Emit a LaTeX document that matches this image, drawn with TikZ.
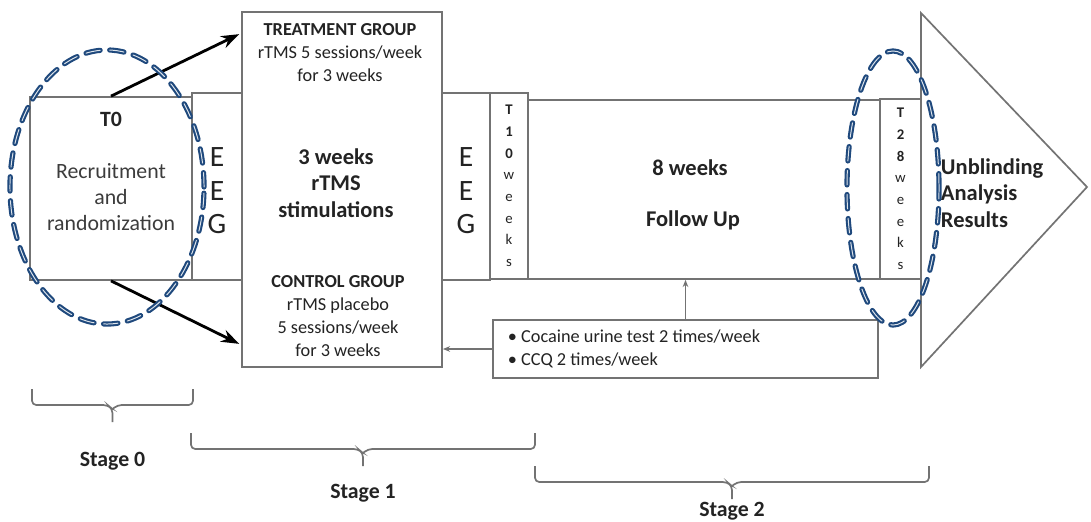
\documentclass[tikz,border=0pt]{standalone}
\usepackage{fontspec}
\setmainfont{Carlito}
\usepackage{tikz}
\usetikzlibrary{arrows.meta, positioning, calc, fit}
\definecolor{myline}{RGB}{115,115,115}
\definecolor{mytext}{RGB}{35,35,35}
\definecolor{mygrey}{RGB}{60,60,60}
\definecolor{myblue}{RGB}{31,73,125}
\tikzset{
  box/.style={rectangle, draw=myline, fill=white, line width=1.2pt, inner sep=0pt},
  eegtext/.style={font=\fontsize{21}{24}\selectfont, align=center, text=mytext, yshift=-3pt},
  colltext/.style={font=\fontsize{10.5}{15.4}\selectfont, align=center, text=mytext},
  grouptext/.style={font=\fontsize{13}{16.4}\selectfont, align=center, text=mytext},
  headtext/.style={font=\fontsize{16}{18.8}\selectfont\bfseries, align=center, text=mytext},
  stagetext/.style={font=\fontsize{15.5}{18}\selectfont\bfseries, text=mytext},
  bigarrow/.style={-{Stealth[length=4.5mm,width=3.2mm]}, line width=2pt, black},
  smallarrow/.style={-{Stealth[length=1.8mm,width=1.4mm]}, line width=1pt, myline},
  bracket/.style={line width=1.2pt, myline, rounded corners=3pt},
  ring/.style={draw=myblue, double=white!85!myblue, double distance=0.7pt, line width=1.5pt,
    dash pattern=on 3.6mm off 2.4mm, line cap=round}
}

\begin{document}
\begin{tikzpicture}[x=0.025cm, y=-0.025cm]
  \useasboundingbox[fill=white] (0,0) rectangle (1091,521);

  % Arrow head at the end of the timeline
  \draw[myline, line width=1.2pt, fill=white] (921,13) -- (1087,187) -- (921,367) -- cycle;

  % Timeline blocks
  \node[box, fit={(30,97) (192,280)}] (t0) {};
  \node[box, fit={(192,93) (242,280)}] (eeg1) {};
  \node[box, fit={(242,12) (442,367)}] (treat) {};
  \node[box, fit={(442,93) (490,280)}] (eeg2) {};
  \node[box, fit={(490,93) (528,279)}] (t10) {};
  \node[box, fit={(528,100) (880,279)}] (follow) {};
  \node[box, fit={(880,99) (921,279)}] (t28) {};
  \node[box, fit={(493,320) (878,378)}] (tests) {};

  % Stage 0
  \node[font=\fontsize{15.5}{18}\selectfont\bfseries, text=mytext] (t0head) at (111,119) {T0};
  \node[align=center, font=\fontsize{15.5}{18.2}\selectfont, text=mygrey] (t0body) at (111,197)
    {Recruitment\\and\\randomization};
  \node[eegtext] (eeg1txt) at (eeg1) {E\\E\\G};

  % Stage 1
  \node[grouptext] (treathead) at (340,53) {\textbf{TREATMENT GROUP}\\rTMS 5 sessions/week\\for 3 weeks};
  \node[headtext] (rtms) at (336,183) {3 weeks\\rTMS\\stimulations};
  \node[grouptext] (ctrlhead) at (338,316) {\textbf{CONTROL GROUP}\\rTMS placebo\\ 5 sessions/week\\for 3 weeks};
  \node[eegtext] (eeg2txt) at (eeg2) {E\\E\\G};
  \node[colltext] (t10txt) at (t10) {\textbf{T}\\\textbf{1}\\\textbf{0}\\w\\e\\e\\k\\s};

  % Stage 2
  \node[headtext] (weeks8) at (690,168) {8 weeks};
  \node[headtext] (fu) at (693,220) {Follow Up};
  \node[colltext] (t28txt) at (t28) {\textbf{T}\\\textbf{2}\\\textbf{8}\\w\\e\\e\\k\\s};
  \node[headtext, align=left, anchor=west] (unblind) at (936,193) {Unblinding\\Analysis\\Results};
  \node[grouptext, align=left, anchor=west] (teststxt) at (503,348.5)
    {\textbullet\ Cocaine urine test 2 times/week\\\textbullet\ CCQ 2 times/week};

  % Randomization arrows
  \draw[bigarrow] (t0.north) -- ($(treat.north west)+(-2,23)$);
  \draw[bigarrow] (t0.south) -- ($(treat.south west)+(-2,-24)$);

  % Assessment connectors
  \draw[smallarrow] (tests.north) -- (tests.north |- follow.south);
  \draw[smallarrow] (tests.west) -- (tests.west -| treat.east);

  % Highlighted time points
  \draw[ring] (107,187) ellipse [x radius=2.425cm, y radius=3.425cm];
  \draw[ring] (893,188) ellipse [x radius=1.15cm, y radius=3.425cm];

  % Stage brackets
  \foreach \xa/\xb/\yt/\ylab/\n in {32/193/389/461/0, 191/535/433/493/1, 535/929/466/511/2} {
    \pgfmathsetmacro\xm{(\xa+\xb)/2}
    \draw[bracket] (\xa,\yt) -- (\xa,\yt+16) -- (\xm-5,\yt+16) -- (\xm,\yt+20) -- (\xm,\yt+33);
    \draw[bracket] (\xb,\yt) -- (\xb,\yt+16) -- (\xm+5,\yt+16) -- (\xm,\yt+20);
    \node[stagetext] (stage\n) at (\xm,\ylab) {Stage \n};
  }
\end{tikzpicture}
\end{document}
